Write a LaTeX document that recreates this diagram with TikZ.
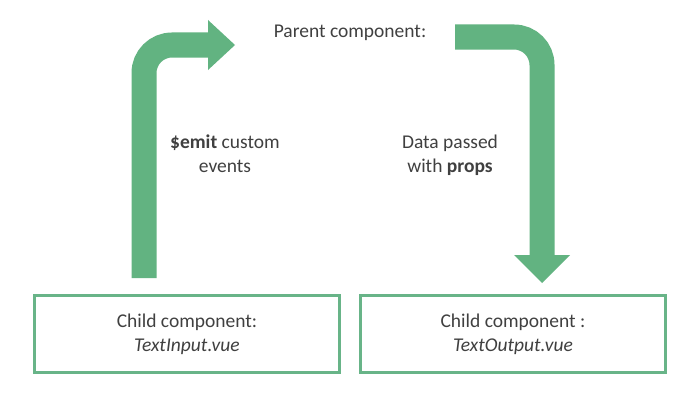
\documentclass[tikz,border=0pt]{standalone}
\usepackage{fontspec}
\setmainfont{Carlito}
\usetikzlibrary{arrows.meta}
\definecolor{flowgreen}{RGB}{98,179,129}
\definecolor{boxgreen}{RGB}{104,180,136}
\definecolor{txtgray}{RGB}{64,64,64}
\begin{document}
\begin{tikzpicture}[x=1pt,y=1pt,
  txt/.style={text=txtgray, font=\fontsize{19.5}{24}\selectfont, align=center, inner sep=0pt},
  compbox/.style={txt, draw=boxgreen, line width=3pt, minimum width=305pt, minimum height=77pt},
  bigarrow/.style={draw=flowgreen, line width=25pt, rounded corners=28pt}
]
\useasboundingbox[fill=white] (0,0) rectangle (700,400);

\node[txt, anchor=base] (parent) at (350,362.7) {Parent component:};

\node[compbox] (inbox) at (187,66) {Child component:\\\textit{TextInput.vue}};
\node[compbox] (outbox) at (513,66) {Child component :\\\textit{TextOutput.vue}};

\node[txt, anchor=base] (emitlbl) at (225,228) {\textbf{\$emit} custom\\events};
\node[txt, anchor=base] (propslbl) at (450,228) {Data passed\\with \textbf{props}};

\coordinate (emitstart) at (144,122);
\coordinate (emitend) at (235,355);
\coordinate (propsstart) at (455,363);
\coordinate (propsend) at (542,117);

\draw[bigarrow, -{Triangle[width=50pt,length=27pt,line width=0pt]}] (emitstart) |- (emitend);
\draw[bigarrow, -{Triangle[width=56pt,length=28pt,line width=0pt]}] (propsstart) -| (propsend);
\end{tikzpicture}
\end{document}
